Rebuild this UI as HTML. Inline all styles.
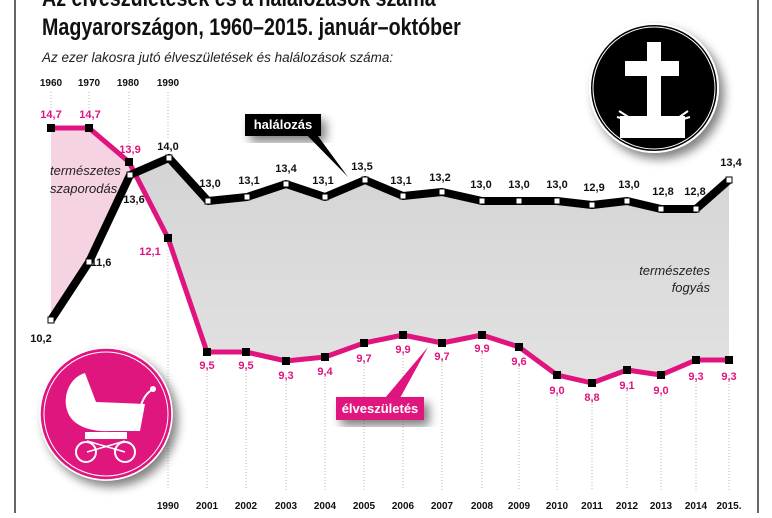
<!DOCTYPE html>
<html><head><meta charset="utf-8"><style>
body{margin:0;background:#fff;width:772px;height:513px;overflow:hidden;font-family:"Liberation Sans",sans-serif}
</style></head><body>
<svg width="772" height="513" viewBox="0 0 772 513" font-family="Liberation Sans, sans-serif">
<defs>
<filter id="sh" x="-30%" y="-30%" width="160%" height="160%"><feGaussianBlur in="SourceAlpha" stdDeviation="5"/><feOffset dx="5" dy="6"/><feComponentTransfer><feFuncA type="linear" slope="0.5"/></feComponentTransfer><feMerge><feMergeNode/><feMergeNode in="SourceGraphic"/></feMerge></filter>
<linearGradient id="gg" x1="0" y1="0" x2="0" y2="1"><stop offset="0" stop-color="#d4d4d4"/><stop offset="1" stop-color="#e2e2e2"/></linearGradient>
</defs>
<rect x="14" y="0" width="2" height="513" fill="#666"/>
<rect x="757" y="0" width="2" height="513" fill="#666"/>
<g transform="translate(42,0) scale(0.82,1)">
<text x="0" y="6" font-size="24" font-weight="bold" fill="#111">Az élveszületések és a halálozások száma</text>
<text x="0" y="35" font-size="24" font-weight="bold" fill="#111">Magyarországon, 1960–2015. január–október</text>
</g>
<text x="42" y="62" font-size="13.5" font-style="italic" fill="#222">Az ezer lakosra jutó élveszületések és halálozások száma:</text>
<g font-size="10" font-weight="bold" fill="#111" text-anchor="middle">
<text x="51" y="86">1960</text><text x="89" y="86">1970</text><text x="128" y="86">1980</text><text x="168" y="86">1990</text>
</g>
<g stroke="#bbb" stroke-dasharray="1,2" stroke-width="1">
<line x1="51" y1="92" x2="51" y2="108"/><line x1="89" y1="92" x2="89" y2="108"/><line x1="129" y1="92" x2="129" y2="148"/><line x1="168" y1="92" x2="168" y2="140"/>
<line x1="168" y1="250" x2="168" y2="490"/><line x1="207" y1="370" x2="207" y2="490"/><line x1="246" y1="370" x2="246" y2="490"/><line x1="286" y1="375" x2="286" y2="490"/><line x1="325" y1="375" x2="325" y2="490"/><line x1="364" y1="360" x2="364" y2="490"/><line x1="403" y1="355" x2="403" y2="490"/><line x1="442" y1="360" x2="442" y2="490"/><line x1="482" y1="355" x2="482" y2="490"/><line x1="519" y1="365" x2="519" y2="490"/><line x1="557" y1="390" x2="557" y2="490"/><line x1="592" y1="398" x2="592" y2="490"/><line x1="627" y1="385" x2="627" y2="490"/><line x1="661" y1="390" x2="661" y2="490"/><line x1="696" y1="375" x2="696" y2="490"/><line x1="729" y1="375" x2="729" y2="490"/>
</g>
<polygon points="51,128 89,128 129,162 133,172 89,262 51,320" fill="#f6d3e2"/>
<polygon points="133,172 169,158 208,201 247,197 286,184 325,197 365,180 403,196 442,192 482,201 519,201 557,201 592,205 627,201 661,209 696,209 729,180 729,360 696,360 661,375 627,370 592,383 557,375 519,347 482,335 442,343 403,335 364,343 325,357 286,361 246,352 207,352 168,238" fill="url(#gg)"/>
<polyline points="51,128 89,128 129,162 168,238 207,352 246,352 286,361 325,357 364,343 403,335 442,343 482,335 519,347 557,375 592,383 627,370 661,375 696,360 729,360" fill="none" stroke="#e0147f" stroke-width="5" stroke-linejoin="round"/>
<polyline points="51,320 89,262 130,175 169,158 208,201 247,197 286,184 325,197 365,180 403,196 442,192 482,201 519,201 557,201 592,205 627,201 661,209 696,209 729,180" fill="none" stroke="#000" stroke-width="8" stroke-linejoin="round"/>
<g fill="#000">
<rect x="47" y="124" width="8" height="8"/><rect x="85" y="124" width="8" height="8"/><rect x="125" y="158" width="8" height="8"/><rect x="164" y="234" width="8" height="8"/><rect x="203" y="348" width="8" height="8"/><rect x="242" y="348" width="8" height="8"/><rect x="282" y="357" width="8" height="8"/><rect x="321" y="353" width="8" height="8"/><rect x="360" y="339" width="8" height="8"/><rect x="399" y="331" width="8" height="8"/><rect x="438" y="339" width="8" height="8"/><rect x="478" y="331" width="8" height="8"/><rect x="515" y="343" width="8" height="8"/><rect x="553" y="371" width="8" height="8"/><rect x="588" y="379" width="8" height="8"/><rect x="623" y="366" width="8" height="8"/><rect x="657" y="371" width="8" height="8"/><rect x="692" y="356" width="8" height="8"/><rect x="725" y="356" width="8" height="8"/>
</g>
<g fill="#fff" stroke="#000" stroke-width="1">
<rect x="48" y="317" width="6" height="6"/><rect x="86" y="259" width="6" height="6"/><rect x="127" y="172" width="6" height="6"/><rect x="166" y="155" width="6" height="6"/><rect x="205" y="198" width="6" height="6"/><rect x="244" y="194" width="6" height="6"/><rect x="283" y="181" width="6" height="6"/><rect x="322" y="194" width="6" height="6"/><rect x="362" y="177" width="6" height="6"/><rect x="400" y="193" width="6" height="6"/><rect x="439" y="189" width="6" height="6"/><rect x="479" y="198" width="6" height="6"/><rect x="516" y="198" width="6" height="6"/><rect x="554" y="198" width="6" height="6"/><rect x="589" y="202" width="6" height="6"/><rect x="624" y="198" width="6" height="6"/><rect x="658" y="206" width="6" height="6"/><rect x="693" y="206" width="6" height="6"/><rect x="726" y="177" width="6" height="6"/>
</g>
<g font-size="11" font-weight="bold" fill="#e0147f" text-anchor="middle">
<text x="51" y="118">14,7</text><text x="90" y="118">14,7</text><text x="130" y="153">13,9</text><text x="150" y="255">12,1</text>
<text x="207" y="369">9,5</text><text x="246" y="369">9,5</text><text x="286" y="379">9,3</text><text x="325" y="375">9,4</text><text x="364" y="362">9,7</text><text x="403" y="353">9,9</text><text x="442" y="360">9,7</text><text x="482" y="352">9,9</text><text x="519" y="365">9,6</text><text x="557" y="394">9,0</text><text x="592" y="401">8,8</text><text x="627" y="389">9,1</text><text x="661" y="394">9,0</text><text x="696" y="380">9,3</text><text x="729" y="380">9,3</text>
</g>
<g font-size="11" font-weight="bold" fill="#111" text-anchor="middle">
<text x="41" y="342">10,2</text><text x="101" y="266">11,6</text><text x="134" y="203">13,6</text><text x="168" y="150">14,0</text>
<text x="210" y="187">13,0</text><text x="249" y="184">13,1</text><text x="286" y="172">13,4</text><text x="323" y="184">13,1</text><text x="362" y="170">13,5</text><text x="401" y="184">13,1</text><text x="440" y="181">13,2</text><text x="481" y="188">13,0</text><text x="519" y="188">13,0</text><text x="557" y="188">13,0</text><text x="594" y="191">12,9</text><text x="629" y="188">13,0</text><text x="663" y="195">12,8</text><text x="695" y="195">12,8</text><text x="731" y="166">13,4</text>
</g>
<g font-size="13" font-style="italic" fill="#222">
<text x="50" y="175">természetes</text><text x="50" y="193">szaporodás</text>
<text x="710" y="275" text-anchor="end">természetes</text><text x="710" y="292" text-anchor="end">fogyás</text>
</g>
<polygon points="300,128 348,177 312,128" fill="#000"/>
<rect x="245" y="114" width="76" height="22" fill="#000" filter="url(#sh)"/>
<text x="283" y="129" font-size="13" font-weight="bold" fill="#fff" text-anchor="middle">halálozás</text>
<polygon points="385,398 428,347 400,398" fill="#e0147f"/>
<rect x="336" y="397" width="88" height="23" fill="#e0147f" filter="url(#sh)"/>
<text x="380" y="413" font-size="13" font-weight="bold" fill="#fff" text-anchor="middle">élveszületés</text>
<g font-size="10" font-weight="bold" fill="#111" text-anchor="middle">
<text x="168" y="509">1990</text><text x="207" y="509">2001</text><text x="246" y="509">2002</text><text x="286" y="509">2003</text><text x="325" y="509">2004</text><text x="364" y="509">2005</text><text x="403" y="509">2006</text><text x="442" y="509">2007</text><text x="482" y="509">2008</text><text x="519" y="509">2009</text><text x="557" y="509">2010</text><text x="592" y="509">2011</text><text x="627" y="509">2012</text><text x="661" y="509">2013</text><text x="696" y="509">2014</text><text x="729" y="509">2015.</text>
</g>
<g filter="url(#sh)">
<circle cx="106" cy="414" r="66" fill="#e0147f" stroke="#fff" stroke-width="1.5"/>
<circle cx="106" cy="414" r="62" fill="none" stroke="#fff" stroke-width="1"/>
</g>
<path d="M85,373 C68,378 63,398 67,410 C72,428 95,432 110,431 L140,431 L145,404 L96,402 Z" fill="#fff"/>
<path d="M140,410 C142,398 148,392 152,390" stroke="#fff" stroke-width="2" fill="none"/>
<circle cx="153" cy="389" r="3" fill="#fff"/>
<rect x="85" y="432" width="42" height="7" fill="#fff"/>
<path d="M87,441 L125,452 M125,441 L87,452" stroke="#fff" stroke-width="1.5"/>
<circle cx="86" cy="452" r="10" fill="none" stroke="#fff" stroke-width="2"/>
<circle cx="125" cy="452" r="10" fill="none" stroke="#fff" stroke-width="2"/>
<g filter="url(#sh)">
<circle cx="654" cy="88" r="64" fill="#000" stroke="#fff" stroke-width="2"/>
<circle cx="654" cy="88" r="61" fill="none" stroke="#fff" stroke-width="1"/>
</g>
<path d="M647,42 H661 V61 H679 V76 H661 V116 H685 V138 H620 V116 H647 V76 H625 V61 H647 Z" fill="#fff"/>
<path d="M617,117 L628,120 M619,111 L630,118 M690,117 L680,120 M688,111 L678,118" stroke="#fff" stroke-width="2"/>
</svg>
</body></html>
